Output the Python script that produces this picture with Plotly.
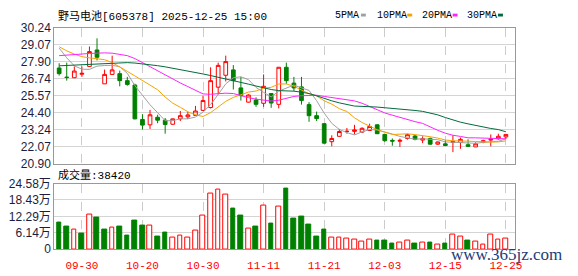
import plotly.graph_objects as go
import pandas as pd

dates = ["09-25","09-26","09-29","09-30","10-09","10-10","10-13","10-14","10-15","10-16",
         "10-17","10-20","10-21","10-22","10-23","10-24","10-27","10-28","10-29","10-30",
         "10-31","11-03","11-04","11-05","11-06","11-07","11-10","11-11","11-12","11-13",
         "11-14","11-17","11-18","11-19","11-20","11-21","11-24","11-25","11-26","11-27",
         "11-28","12-01","12-02","12-03","12-04","12-05","12-08","12-09","12-10","12-11",
         "12-12","12-15","12-16","12-17","12-18","12-19","12-22","12-23","12-24","12-25"]

opens = [27.48,26.85,26.81,27.05,27.59,28.72,26.39,27.04,27.09,26.61,
         26.31,23.94,23.57,24.09,23.89,23.61,23.98,24.12,24.22,24.56,
         24.76,26.16,26.98,27.35,26.11,25.13,25.28,25.05,25.72,24.98,
         27.53,26.44,26.18,24.96,24.20,23.65,22.41,22.78,23.12,23.12,
         23.07,23.18,23.57,22.91,22.50,22.44,22.63,22.80,22.52,22.63,
         22.24,22.26,22.36,22.35,22.20,22.05,22.37,22.52,22.61,22.74]
highs = [27.81,27.85,27.59,27.59,28.96,29.52,27.37,28.33,27.30,26.87,
         26.40,24.30,24.59,24.26,24.04,24.00,24.52,24.46,24.87,25.57,
         27.53,27.85,28.33,27.68,26.87,25.67,25.46,27.04,25.75,27.55,
         27.85,26.87,26.87,25.13,24.48,23.68,22.85,23.29,23.35,23.57,
         23.40,23.65,23.60,22.96,22.63,22.63,22.96,22.87,22.78,22.70,
         22.42,22.50,22.85,22.70,22.57,22.37,22.55,22.91,22.96,22.92]
lows = [26.96,26.61,26.79,26.87,27.55,28.00,26.39,27.00,26.22,26.26,
        23.95,23.24,23.29,23.68,22.96,23.58,23.83,23.97,24.20,24.52,
        24.70,25.67,26.55,26.00,25.24,25.10,24.81,24.81,24.74,24.70,
        26.39,25.90,24.96,23.78,23.83,22.28,22.09,22.74,22.96,22.91,
        23.00,23.15,22.93,22.40,22.13,22.05,22.55,22.50,22.31,22.20,
        22.18,22.10,21.69,21.92,22.05,22.05,22.30,22.09,22.55,22.60]
closes = [27.09,26.83,27.27,27.11,28.61,28.22,27.04,27.35,26.61,26.35,
          23.98,23.55,24.26,23.89,23.59,23.98,24.20,24.25,24.52,25.24,
          26.61,27.66,27.92,26.61,25.58,25.62,24.98,26.22,25.07,27.53,
          26.61,26.11,25.24,24.20,24.00,22.31,22.63,23.11,23.12,23.22,
          23.33,23.46,22.96,22.48,22.45,22.50,22.89,22.57,22.63,22.24,
          22.39,22.15,22.42,22.57,22.09,22.26,22.48,22.58,22.78,22.91]
# volume in 万 (10k shares)
volumes = [9.86,8.43,7.25,5.93,12.86,11.64,7.25,7.96,8.43,5.11,
           10.82,8.68,8.68,4.75,6.18,4.29,5.11,4.50,6.79,12.50,
           20.82,22.50,20.36,15.10,12.60,7.60,8.43,16.20,9.75,15.82,
           22.60,11.30,12.25,9.04,4.86,7.25,4.29,4.29,3.93,3.68,
           2.96,3.68,3.32,3.32,2.25,2.50,3.21,2.25,2.50,2.60,
           1.79,1.89,5.36,4.75,3.21,2.71,1.79,5.36,3.68,3.842]

# MA values before a full window exists
ma5_head = [28.85,28.18,27.63,27.40]
ma10_head = [28.94,28.66,28.44,28.26,28.18,28.13,28.05,27.85,27.57]
ma20_head = [28.33,28.35,28.37,28.44,28.48,28.52,28.52,28.50,28.44,28.33,
             28.13,27.85,27.57,27.26,26.98,26.72,26.45,26.20,25.95]
ma30_head = [27.63,27.66,27.68,27.70,27.74,27.78,27.81,27.83,27.85,27.85,
             27.82,27.77,27.71,27.64,27.56,27.47,27.38,27.28,27.18,27.07,
             26.96,26.85,26.74,26.62,26.50,26.37,26.24,26.11,26.00]

price_ticks = [20.90,22.07,23.24,24.40,25.57,26.74,27.90,29.07,30.24]
vol_ticks = [0,6.14,12.29,18.43,24.58]
label_dates = ["09-30","10-20","10-30","11-11","11-21","12-03","12-15","12-25"]

RED = "#ff0000"
GREEN = "#008000"
W, H = 578, 276

cs = pd.Series(closes)
def ma(n, head):
    vals = cs.rolling(n).mean().tolist()
    return head + vals[len(head):]

ma_specs = [(5, ma5_head, "#a0a0a0"), (10, ma10_head, "#f5a300"),
            (20, ma20_head, "#ff22ff"), (30, ma30_head, "#006b3c")]

fig = go.Figure()
fig.add_trace(go.Candlestick(
    x=dates, open=opens, high=highs, low=lows, close=closes,
    increasing=dict(line=dict(color=RED, width=1), fillcolor="white"),
    decreasing=dict(line=dict(color=GREEN, width=1), fillcolor=GREEN),
    whiskerwidth=0, hoverinfo="skip", xaxis="x", yaxis="y", showlegend=False))

for n, head, col in ma_specs:
    fig.add_trace(go.Scatter(x=dates, y=ma(n, head), mode="lines",
                             line=dict(color=col, width=1), hoverinfo="skip",
                             xaxis="x", yaxis="y", showlegend=False))

# volume colours: up vs previous close
up = []
for i, c in enumerate(closes):
    prev = closes[i - 1] if i > 0 else opens[0]
    up.append(c > prev)
fig.add_trace(go.Bar(
    x=dates, y=volumes, width=0.62,
    marker=dict(color=["white" if u else GREEN for u in up],
                line=dict(color=[RED if u else GREEN for u in up], width=1)),
    hoverinfo="skip", xaxis="x2", yaxis="y2", showlegend=False))

xdom = [55 / W, 522 / W]
xr = [-0.65, 60.17]
axis_common = dict(showline=True, mirror=True, linecolor="#999999", linewidth=1,
                   zeroline=False, fixedrange=True)
fig.update_layout(
    width=W, height=H, margin=dict(l=0, r=0, t=0, b=0),
    paper_bgcolor="white", plot_bgcolor="white",
    bargap=0,
    xaxis=dict(domain=xdom, type="category", range=xr, tickvals=label_dates,
               showticklabels=False, ticks="", showgrid=True, gridcolor="#cccccc",
               griddash="dash", gridwidth=1, rangeslider=dict(visible=False),
               anchor="y", **axis_common),
    yaxis=dict(domain=[(H - 165) / H, (H - 22) / H], range=[20.90, 30.24],
               tickvals=price_ticks, ticktext=[f"{v:.2f}" for v in price_ticks],
               showgrid=True, gridcolor="#d4d4d4", gridwidth=1, ticks="",
               tickfont=dict(family="Liberation Sans", size=12, color="#1c1c40"),
               anchor="x", **axis_common),
    xaxis2=dict(domain=xdom, type="category", range=xr, tickvals=label_dates,
                ticktext=label_dates, ticks="", showgrid=True, gridcolor="#cccccc",
                griddash="dash", gridwidth=1, ticklabelstandoff=6,
                tickfont=dict(family="Liberation Mono", size=11, color=RED),
                anchor="y2", **axis_common),
    yaxis2=dict(domain=[(H - 255) / H, (H - 186) / H], range=[0, 24.58],
                tickvals=vol_ticks,
                ticktext=["0"] + [f"{v:.2f}万" for v in vol_ticks[1:]],
                showgrid=True, gridcolor="#d4d4d4", gridwidth=1, ticks="",
                tickfont=dict(family="Liberation Sans, Noto Sans CJK SC", size=12, color="#1c1c40"),
                anchor="x2", **axis_common),
)

def px_x(p):
    return p / W
def px_y(p):
    return 1 - p / H

annos = [
    dict(text="野马电池[605378] 2025-12-25 15:00", x=px_x(57), y=px_y(9.5),
         font=dict(family="Liberation Mono, Noto Sans CJK SC", size=11, color="#000000")),
    dict(text=f"成交量:{round(volumes[-1] * 10000)}", x=px_x(57), y=px_y(176.5),
         font=dict(family="Liberation Mono, Noto Sans CJK SC", size=11, color="#000000")),
]
legend_pos = [(338, 366), (380, 413), (426, 459), (472, 505)]
for (n, head, col), (tx, sx) in zip(ma_specs, legend_pos):
    annos.append(dict(text=f"{n}PMA", x=px_x(tx), y=px_y(8.5),
                      font=dict(family="Liberation Mono", size=10, color="#000000")))
    fig.add_shape(type="rect", xref="paper", yref="paper",
                  x0=px_x(sx), x1=px_x(sx + 5), y0=px_y(10), y1=px_y(7),
                  fillcolor=col, line=dict(width=0))
for a in annos:
    fig.add_annotation(xref="paper", yref="paper", xanchor="left", yanchor="middle",
                       showarrow=False, **a)

fig.add_annotation(text="www.365jz.com", xref="paper", yref="paper",
                   x=px_x(514), y=px_y(261), xanchor="center", yanchor="middle",
                   showarrow=False,
                   font=dict(family="Liberation Serif", size=17, color="#1e3c78"))

fig.write_html("out.html")
